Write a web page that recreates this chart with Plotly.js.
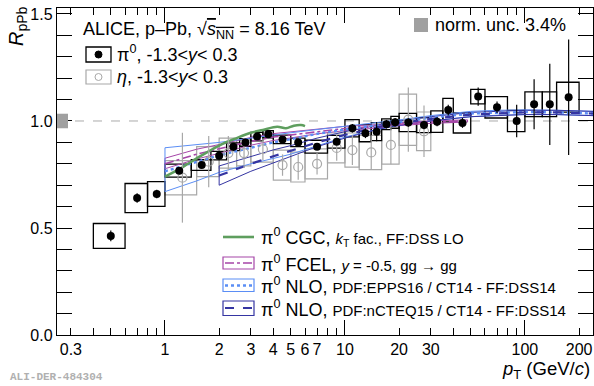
<!DOCTYPE html>
<html><head><meta charset="utf-8">
<script src="https://cdn.plot.ly/plotly-3.0.1.min.js"></script>
<style>html,body{margin:0;padding:0;background:#fff}#plot{width:594px;height:386px}</style>
</head><body><div id="plot"></div>
<script>
// ---------- pi0 data ----------
const pi0Lo   = [0.4,0.6,0.8,1.0,1.4,1.8,2.2,2.6,3.0,3.5,4,5,6,8,10,12,14,16,18,20,25,30,35,40,50,60,80,100,125,150];
const pi0Hi   = [0.6,0.8,1.0,1.4,1.8,2.2,2.6,3.0,3.5,4.0,5,6,8,10,12,14,16,18,20,25,30,35,40,50,60,80,100,125,150,200];
const pi0Pt   = [0.5,0.7,0.9,1.2,1.6,2.0,2.4,2.8,3.25,3.75,4.5,5.5,7,9,11,13,15,17,19,22.5,27.5,32.5,37.5,45,55,70,90,112.5,137.5,175];
const pi0R    = [0.463,0.640,0.659,0.768,0.794,0.838,0.880,0.900,0.927,0.938,0.914,0.900,0.880,0.903,0.966,0.943,0.950,0.985,0.994,0.993,0.981,0.997,1.051,0.991,1.114,1.064,1.000,1.078,1.078,1.111];
const pi0Stat = [0.025,0.022,0.02,0.015,0.012,0.01,0.01,0.01,0.01,0.01,0.01,0.012,0.015,0.015,0.02,0.023,0.045,0.02,0.02,0.02,0.02,0.022,0.025,0.023,0.043,0.027,0.076,0.117,0.19,0.27];
const pi0Sys  = [0.058,0.068,0.058,0.03,0.025,0.02,0.018,0.018,0.02,0.017,0.02,0.02,0.03,0.03,0.04,0.04,0.042,0.025,0.028,0.043,0.035,0.05,0.055,0.047,0.034,0.05,0.05,0.058,0.058,0.07];

// ---------- eta data ----------
const etaLo   = [1.0,1.5,2.0,2.5,3,4,5,6,8,10,12,16,20,25];
const etaHi   = [1.5,2.0,2.5,3.0,4,5,6,8,10,12,16,20,25,30];
const etaPt   = [1.25,1.75,2.25,2.75,3.5,4.5,5.5,7,9,11,14,18,22.5,27.5];
const etaR    = [0.735,0.81,0.85,0.85,0.868,0.794,0.785,0.80,0.874,0.864,0.853,0.888,1.006,0.952];
const etaStat = [0.21,0.12,0.08,0.07,0.05,0.05,0.06,0.05,0.06,0.07,0.08,0.09,0.15,0.12];
const etaSys  = [0.08,0.07,0.07,0.06,0.06,0.07,0.07,0.07,0.07,0.08,0.08,0.09,0.12,0.09];

// ---------- theory ----------
const cgcPt = [1.0,1.2,1.5,2.0,2.5,3.0,3.5,4.2,4.7,5.2,5.7,6.0];
const cgcR  = [0.74,0.775,0.825,0.885,0.92,0.945,0.958,0.973,0.966,0.978,0.981,0.976];

const fcelPt  = [1.0,1.5,2,3,4,5,7,10,15,20,30,48];
const fcelR   = [0.80,0.845,0.87,0.905,0.925,0.935,0.952,0.965,0.975,0.985,0.995,1.0];
const fcelUp  = [0.826,0.868,0.89,0.923,0.941,0.949,0.964,0.975,0.983,0.992,1.001,1.005];
const fcelLow = [0.777,0.822,0.85,0.887,0.909,0.921,0.940,0.955,0.967,0.978,0.989,0.995];

const eppsPt  = [1.0,1.5,2,3,4,5,7,10,15,20,30,50,70,100,150,240];
const eppsR   = [0.765,0.81,0.84,0.875,0.9,0.915,0.94,0.96,0.98,0.995,1.015,1.035,1.04,1.042,1.04,1.035];
const eppsUp  = [0.875,0.89,0.9,0.92,0.935,0.945,0.96,0.975,0.99,1.005,1.025,1.045,1.05,1.052,1.05,1.045];
const eppsLow = [0.67,0.72,0.76,0.8,0.825,0.845,0.885,0.925,0.96,0.98,1.0,1.02,1.027,1.03,1.03,1.025];

const ncteqPt  = [2,3,4,5,7,10,15,20,30,50,70,100,150,240];
const ncteqR   = [0.745,0.8,0.835,0.86,0.9,0.935,0.97,0.99,1.01,1.03,1.035,1.04,1.04,1.035];
const ncteqUp  = [0.79,0.835,0.865,0.885,0.92,0.95,0.98,1.0,1.02,1.04,1.045,1.05,1.05,1.045];
const ncteqLow = [0.70,0.765,0.805,0.835,0.88,0.92,0.96,0.98,1.0,1.02,1.025,1.03,1.03,1.025];

const xLabelVals = [0.3,1,2,3,4,5,6,7,10,20,30,100,200];
const xLabelText = ['0.3','1','2','3','4','5','6','7','10','20','30','100','200'];
const xMinorVals = [0.4,0.5,0.6,0.7,0.8,0.9,8,9,40,50,60,70,80,90];
const xDecades   = [1,10,100];
const yTickVals = [0,0.5,1.0,1.5];
const yTickText = ['0.0','0.5','1.0','1.5'];
const normUnc = 0.034;

// ---------- colors ----------
const GREEN='#5e9e5e', MAG='#a646a8', LBLUE='#5b8ef5', NAVY='#3535a2', GRAY='#a8a8a8';
const FONT='Liberation Sans, Arial, sans-serif';

// pixel helpers for paper coords (plot area 57..593 x 8..335)
const PL=57, PR=593, PT=8, PB=335;
const px = x => (x-PL)/(PR-PL);
const py = y => (PB-y)/(PB-PT);

function band(pt, up, low){
  const x = pt.concat(pt.slice().reverse(), [pt[0]]);
  const y = up.concat(low.slice().reverse(), [up[0]]);
  return {x, y};
}

const traces = [];
[[fcelPt,fcelUp,fcelLow,MAG],[eppsPt,eppsUp,eppsLow,LBLUE],[ncteqPt,ncteqUp,ncteqLow,NAVY]].forEach(b=>{
  const bb = band(b[0],b[1],b[2]);
  traces.push({x:bb.x,y:bb.y,mode:'lines',line:{color:b[3],width:1},hoverinfo:'skip',showlegend:false});
});
traces.push({x:fcelPt,y:fcelR,mode:'lines',line:{color:MAG,width:1.6,dash:'dashdot'},showlegend:false});
traces.push({x:eppsPt,y:eppsR,mode:'lines',line:{color:LBLUE,width:2.4,dash:'dot'},showlegend:false});
traces.push({x:ncteqPt,y:ncteqR,mode:'lines',line:{color:NAVY,width:2.2,dash:'dash'},showlegend:false});
traces.push({x:cgcPt,y:cgcR,mode:'lines',line:{color:GREEN,width:2.6,shape:'spline'},showlegend:false});
traces.push({x:etaPt,y:etaR,mode:'markers',marker:{symbol:'circle-open',size:9,color:GRAY,line:{width:1.2,color:GRAY}},
  error_y:{type:'data',array:etaStat,visible:true,color:GRAY,thickness:1.2,width:0},showlegend:false});
traces.push({x:pi0Pt,y:pi0R,mode:'markers',marker:{symbol:'circle',size:8,color:'black'},
  error_y:{type:'data',array:pi0Stat,visible:true,color:'black',thickness:1.2,width:0},showlegend:false});

const shapes = [];
shapes.push({type:'line',xref:'paper',yref:'y',x0:0,x1:1,y0:1,y1:1,line:{color:'#aaaaaa',width:1,dash:'dash'},layer:'below'});
shapes.push({type:'rect',xref:'paper',yref:'y',x0:0,x1:px(68),y0:1-normUnc,y1:1+normUnc,fillcolor:'#a0a0a0',line:{width:0}});
etaLo.forEach((lo,i)=>shapes.push({type:'rect',xref:'x',yref:'y',x0:lo,x1:etaHi[i],y0:etaR[i]-etaSys[i],y1:etaR[i]+etaSys[i],
  line:{color:GRAY,width:1.2},fillcolor:'rgba(0,0,0,0)',layer:'below'}));
pi0Lo.forEach((lo,i)=>shapes.push({type:'rect',xref:'x',yref:'y',x0:lo,x1:pi0Hi[i],y0:pi0R[i]-pi0Sys[i],y1:pi0R[i]+pi0Sys[i],
  line:{color:'black',width:1.3},fillcolor:'rgba(0,0,0,0)',layer:'below'}));

function prect(x0,y0,x1,y1,color,w){ shapes.push({type:'rect',xref:'paper',yref:'paper',x0:px(x0),x1:px(x1),y0:py(y1),y1:py(y0),line:{color:color,width:w},fillcolor:'rgba(0,0,0,0)'}); }
function pline(x0,y,x1,color,w,dash){ shapes.push({type:'line',xref:'paper',yref:'paper',x0:px(x0),x1:px(x1),y0:py(y),y1:py(y),line:{color:color,width:w,dash:dash||'solid'}}); }
function pcirc(cx,cy,r,fill,color){ shapes.push({type:'circle',xref:'paper',yref:'paper',x0:px(cx-r),x1:px(cx+r),y0:py(cy+r),y1:py(cy-r),fillcolor:fill,line:{color:color,width:1}}); }
prect(86,47,111,62,'black',1.3); pcirc(98.5,54.5,3.5,'black','black');
prect(86,70,111,84,GRAY,1.2); pcirc(98.5,77,3.5,'white',GRAY);
pline(223,237,254,GREEN,2.6);
prect(223,257,254,269,MAG,1.2); pline(225,263,252,MAG,1.6,'dashdot');
prect(223,279,254,291.5,LBLUE,1.2); pline(225,285.5,252,LBLUE,2.4,'dot');
prect(223,301,254,315.5,NAVY,1.2); pline(225,308,252,NAVY,2.2,'dash');
shapes.push({type:'rect',xref:'paper',yref:'paper',x0:px(414),x1:px(428),y0:py(32),y1:py(18),fillcolor:'#a0a0a0',line:{width:0}});

const annotations = [];
function txt(x,y,t,size,opts){ annotations.push(Object.assign({xref:'paper',yref:'paper',x:px(x),y:py(y),text:t,showarrow:false,xanchor:'left',yanchor:'middle',font:{family:FONT,size:size,color:'black'}},opts||{})); }
txt(81,31,"ALICE, p–Pb, √<span style='text-decoration:overline'><i>s</i><sub>NN</sub></span> = 8.16 TeV",18);
txt(115,54,"π<sup>0</sup>, -1.3&lt;<i>y</i>&lt; 0.3",18);
txt(115,77,"<i>η</i>, -1.3&lt;<i>y</i>&lt; 0.3",18);
txt(433,25,"norm. unc. 3.4%",18);
const small = s => "<span style='font-size:15px'>"+s+"</span>";
txt(259,237,"π<sup>0</sup> CGC, "+small("<i>k</i><sub>T</sub> fac., FF:DSS LO"),18);
txt(259,263,"π<sup>0</sup> FCEL, "+small("<i>y</i> = -0.5, gg → gg"),18);
txt(259,285.5,"π<sup>0</sup> NLO, "+small("PDF:EPPS16 / CT14 - FF:DSS14"),18);
txt(259,308,"π<sup>0</sup> NLO, "+small("PDF:nCTEQ15 / CT14 - FF:DSS14"),18);
txt(592,370,"<i>p</i><sub>T</sub> (GeV/<i>c</i>)",18.5,{xanchor:'right'});
txt(17,26,"<i>R</i><sub>pPb</sub>",20,{xanchor:'center',textangle:-90});
txt(8,377,"<b>ALI-DER-484304</b>",11,{font:{family:'Liberation Mono, monospace',size:11,color:'#b0b0b0'}});

const XR = [Math.log10(0.2512),Math.log10(239)];
const layout = {
  width:594, height:386,
  margin:{l:57,r:1,t:8,b:51},
  paper_bgcolor:'white', plot_bgcolor:'white',
  showlegend:false,
  font:{family:FONT,size:16,color:'black'},
  xaxis:{type:'log',range:XR,tickvals:xLabelVals,ticktext:xLabelText,
    ticks:'inside',ticklen:7,tickwidth:1,tickcolor:'black',showline:true,linecolor:'black',linewidth:1.2,mirror:'allticks',
    showgrid:false,zeroline:false,tickfont:{family:FONT,size:16}},
  xaxis2:{type:'log',overlaying:'x',anchor:'y',range:XR,tickvals:xDecades,
    ticks:'inside',ticklen:15,tickwidth:1,tickcolor:'black',showticklabels:false,mirror:'allticks',showline:false,showgrid:false,zeroline:false},
  xaxis3:{type:'log',overlaying:'x',anchor:'y',range:XR,tickvals:xMinorVals,
    ticks:'inside',ticklen:7,tickwidth:1,tickcolor:'black',showticklabels:false,mirror:'allticks',showline:false,showgrid:false,zeroline:false},
  yaxis:{range:[0,1.528],tickvals:yTickVals,ticktext:yTickText,ticks:'inside',ticklen:15,tickwidth:1,tickcolor:'black',
    minor:{dtick:0.1,tick0:0,ticks:'inside',ticklen:8,tickcolor:'black',showgrid:false},
    showline:true,linecolor:'black',linewidth:1.2,mirror:'allticks',showgrid:false,zeroline:false,tickfont:{family:FONT,size:16}},
  shapes:shapes, annotations:annotations
};
traces.push({x:[1],y:[1],xaxis:'x2',mode:'markers',marker:{opacity:0},hoverinfo:'skip',showlegend:false});
traces.push({x:[1],y:[1],xaxis:'x3',mode:'markers',marker:{opacity:0},hoverinfo:'skip',showlegend:false});
Plotly.newPlot('plot',traces,layout,{staticPlot:true});
</script></body></html>
